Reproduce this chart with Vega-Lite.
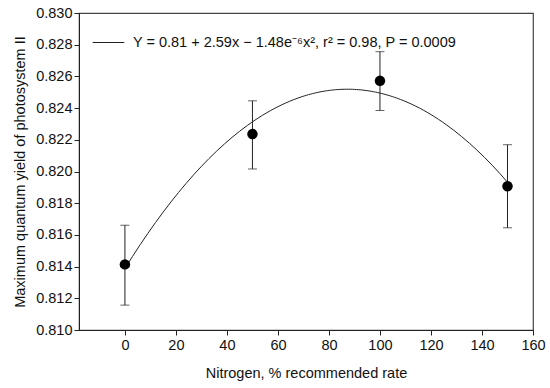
{
  "$schema": "https://vega.github.io/schema/vega-lite/v6.json",
  "autosize": {"type": "none"},
  "width": 454,
  "height": 317,
  "padding": {"left": 79, "top": 13, "right": 17, "bottom": 58},
  "background": "white",
  "config": {
    "font": "Liberation Sans",
    "view": {"stroke": "#444", "strokeWidth": 1.2},
    "axis": {
      "grid": false,
      "domainColor": "#222",
      "tickColor": "#222",
      "labelColor": "#111",
      "titleColor": "#111",
      "labelFontSize": 14.5,
      "titleFontSize": 14.5,
      "titleFontWeight": "normal",
      "tickSize": 5,
      "labelPadding": 3,
      "labelOverlap": false,
      "labelFlush": false
    },
    "axisY": {"labelPadding": 2}
  },
  "data": {
    "values": [
      {"n": 0, "y": 0.81414, "lo": 0.81157, "hi": 0.81661},
      {"n": 50, "y": 0.82236, "lo": 0.82016, "hi": 0.82446},
      {"n": 100, "y": 0.82572, "lo": 0.82385, "hi": 0.82756},
      {"n": 150, "y": 0.81907, "lo": 0.81645, "hi": 0.82169}
    ]
  },
  "layer": [
    {
      "transform": [
        {"regression": "y", "on": "n", "method": "poly", "order": 2, "extent": [0, 150]},
        {"calculate": "'Y = 0.81 + 2.59x − 1.48e⁻⁶x², r² = 0.98, P = 0.0009'", "as": "lab"}
      ],
      "mark": {"type": "line", "color": "#222", "strokeWidth": 1, "interpolate": "monotone"},
      "encoding": {
        "x": {"field": "n", "type": "quantitative", "scale": {"domain": [-18, 160], "nice": false, "zero": false},
          "axis": {"values": [0, 20, 40, 60, 80, 100, 120, 140, 160], "tickCount": 20, "title": "Nitrogen, % recommended rate", "titlePadding": 15}},
        "y": {"field": "y", "type": "quantitative", "scale": {"domain": [0.81, 0.83], "nice": false, "zero": false},
          "axis": {"values": [0.81, 0.812, 0.814, 0.816, 0.818, 0.82, 0.822, 0.824, 0.826, 0.828, 0.83], "tickCount": 20, "format": ".3f", "title": "Maximum quantum yield of photosystem II", "titlePadding": 8}},
        "stroke": {"field": "lab", "type": "nominal", "scale": {"range": ["#222"]},
          "legend": {"title": null, "orient": "top-left", "offset": 1, "symbolType": "stroke", "symbolSize": 1000, "symbolStrokeWidth": 1, "labelFontSize": 14.5, "labelColor": "#111", "labelOffset": 8, "labelLimit": 0, "padding": 12}}
      }
    },
    {
      "mark": {"type": "rule", "color": "#222", "strokeWidth": 1},
      "encoding": {
        "x": {"field": "n", "type": "quantitative"},
        "y": {"field": "lo", "type": "quantitative"},
        "y2": {"field": "hi"}
      }
    },
    {
      "mark": {"type": "tick", "orient": "horizontal", "color": "#222", "size": 9, "thickness": 1},
      "encoding": {
        "x": {"field": "n", "type": "quantitative"},
        "y": {"field": "lo", "type": "quantitative"}
      }
    },
    {
      "mark": {"type": "tick", "orient": "horizontal", "color": "#222", "size": 9, "thickness": 1},
      "encoding": {
        "x": {"field": "n", "type": "quantitative"},
        "y": {"field": "hi", "type": "quantitative"}
      }
    },
    {
      "mark": {"type": "circle", "color": "#000", "opacity": 1, "size": 110},
      "encoding": {
        "x": {"field": "n", "type": "quantitative"},
        "y": {"field": "y", "type": "quantitative"}
      }
    }
  ]
}
